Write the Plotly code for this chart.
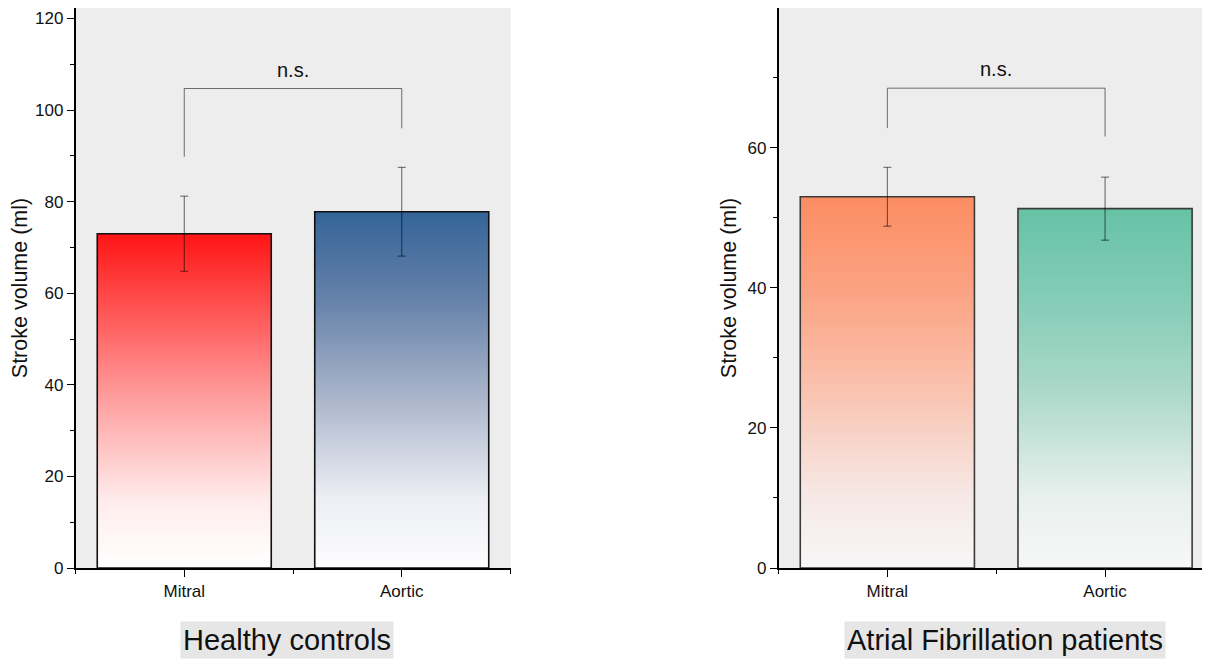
import plotly.graph_objects as go

# ---------------- data ----------------
categories = ["Mitral", "Aortic"]
hc_means = [73.0, 77.8]
hc_err = [8.2, 9.7]
af_means = [53.0, 51.3]
af_err = [4.2, 4.5]
# significance brackets: [left leg bottom, bracket top, right leg bottom]
hc_bracket = [89.8, 104.7, 96.0]
af_bracket = [62.8, 68.5, 61.6]
sig_labels = ["n.s.", "n.s."]
hc_yticks = [0, 20, 40, 60, 80, 100, 120]
af_yticks = [0, 20, 40, 60]
panel_titles = ["Healthy controls", "Atrial Fibrillation patients"]
y_title = "Stroke volume (ml)"

# ---------------- styles ----------------
FONT = "Liberation Sans, Arial, sans-serif"
OFF = 8                      # page body margin of the browser
PAGE_W, PAGE_H = 1210, 661
W, H = PAGE_W - OFF, PAGE_H - OFF
BAR_W = 0.8
gradients = {
    "hc": [
        [[0, "rgb(255,255,255)"], [0.2, "rgb(255,236,236)"], [0.5, "rgb(255,160,160)"],
         [0.75, "rgb(255,90,90)"], [1, "rgb(255,20,20)"]],
        [[0, "rgb(253,253,254)"], [0.2, "rgb(236,238,244)"], [0.5, "rgb(165,177,200)"],
         [0.75, "rgb(102,130,170)"], [1, "rgb(52,100,152)"]],
    ],
    "af": [
        [[0, "rgb(247,247,247)"], [0.2, "rgb(246,232,228)"], [0.5, "rgb(250,192,172)"],
         [0.75, "rgb(251,162,130)"], [1, "rgb(252,141,98)"]],
        [[0, "rgb(247,247,247)"], [0.2, "rgb(232,240,237)"], [0.5, "rgb(170,216,200)"],
         [0.75, "rgb(132,204,182)"], [1, "rgb(102,194,165)"]],
    ],
}
outline = {"hc": "#111111", "af": "#3a3a3a"}

fig = go.Figure()


def add_panel(key, means, errs, bracket, label, xa, ya):
    for i, v in enumerate(means):
        x0, x1 = i - BAR_W / 2, i + BAR_W / 2
        fig.add_trace(go.Scatter(
            x=[x0, x0, x1, x1, x0], y=[0, v, v, 0, 0],
            mode="lines", fill="toself",
            fillgradient=dict(type="vertical", colorscale=gradients[key][i]),
            line=dict(color=outline[key], width=1.6),
            xaxis=xa, yaxis=ya, showlegend=False, hoverinfo="skip"))
    fig.add_trace(go.Scatter(
        x=list(range(len(means))), y=means, mode="markers",
        marker=dict(size=1, opacity=0),
        error_y=dict(type="data", array=errs, color="rgba(0,0,0,0.6)",
                     thickness=1, width=4),
        xaxis=xa, yaxis=ya, showlegend=False, hoverinfo="skip"))
    fig.add_trace(go.Scatter(
        x=[0, 0, 1, 1], y=[bracket[0], bracket[1], bracket[1], bracket[2]],
        mode="lines", line=dict(color="rgba(0,0,0,0.55)", width=1),
        xaxis=xa, yaxis=ya, showlegend=False, hoverinfo="skip"))
    fig.add_annotation(x=0.5, y=bracket[1], xref=xa, yref=ya, text=label,
                       showarrow=False, yanchor="bottom", yshift=6,
                       font=dict(family=FONT, size=20, color="#111"))


add_panel("hc", hc_means, hc_err, hc_bracket, sig_labels[0], "x", "y")
add_panel("af", af_means, af_err, af_bracket, sig_labels[1], "x2", "y2")

# layout (page pixels converted to figure pixels)
plot_top = 0
plot_bot = 568 - OFF
area_h = plot_bot - plot_top
left_dom = [(75.5 - OFF) / W, (510.5 - OFF) / W]
right_left = 778.5 - OFF
right_dom = [right_left / W, 1.0]
cat_px = 217.7
right_max = -0.5 + (W - right_left) / cat_px
px_per_unit_hc = (568 - 7) / 122.5
px_per_unit_af = 7.005
hc_top = area_h / px_per_unit_hc
af_top = area_h / px_per_unit_af

axis_common = dict(showline=True, linecolor="black", linewidth=1.5,
                   showgrid=False, zeroline=False, ticks="outside",
                   ticklen=7, tickwidth=1.2, tickcolor="black",
                   tickfont=dict(family=FONT, size=17, color="#111"))

xcommon = dict(axis_common, tickvals=[0, 1], ticktext=categories,
               minor=dict(ticks="outside", tick0=-0.5, dtick=1, ticklen=4,
                          tickwidth=1.2, tickcolor="black"))

ytitle = dict(text=y_title, font=dict(family=FONT, size=21.5, color="#111"), standoff=5)
yminor = dict(ticks="outside", dtick=10, ticklen=4, tickwidth=1.2, tickcolor="black")

fig.update_layout(
    width=W, height=H,
    margin=dict(l=0, r=0, t=plot_top, b=H - plot_bot),
    paper_bgcolor="white", plot_bgcolor="#EDEDED",
    font=dict(family=FONT, color="#111"),
    xaxis=dict(xcommon, domain=left_dom, range=[-0.5, 1.5], anchor="y"),
    xaxis2=dict(xcommon, domain=right_dom, range=[-0.5, right_max], anchor="y2"),
    yaxis=dict(axis_common, range=[0, hc_top], tickvals=hc_yticks, anchor="x",
               minor=yminor, title=ytitle),
    yaxis2=dict(axis_common, range=[0, af_top], tickvals=af_yticks, anchor="x2",
                minor=yminor, title=ytitle),
)

# panel titles (grey boxed labels below each chart), page pixel centres
title_px = [(287, 640), (1005, 640)]
for (px, py), t in zip(title_px, panel_titles):
    fx, fy = px - OFF, py - OFF
    fig.add_annotation(xref="paper", yref="paper", x=fx / W,
                       y=(plot_bot - fy) / area_h,
                       xanchor="center", yanchor="middle", text=t, showarrow=False,
                       bgcolor="#E6E6E6", borderpad=2,
                       font=dict(family=FONT, size=29, color="#111"))

fig.write_html("out.html")
